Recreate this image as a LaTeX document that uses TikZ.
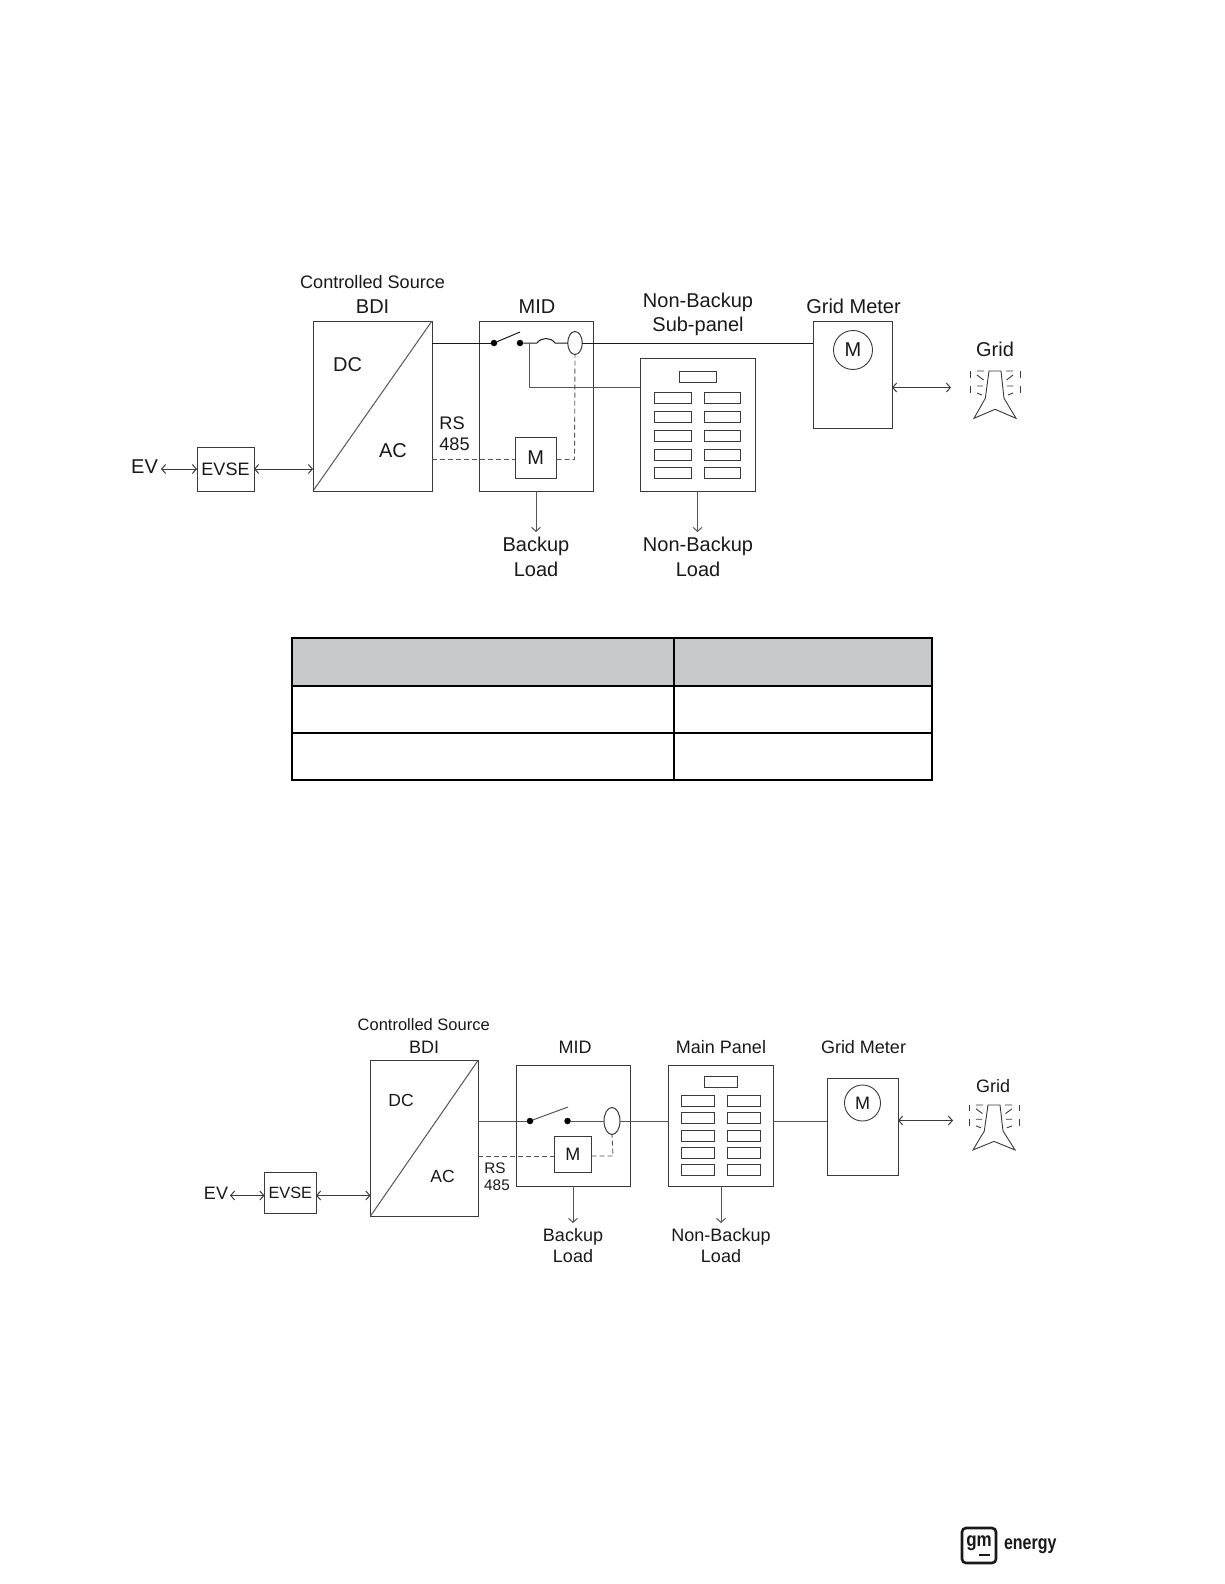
\documentclass[tikz,border=0pt]{standalone}
\usepackage{fontspec}
\setmainfont{Liberation Sans}
\usetikzlibrary{arrows.meta,shapes.geometric}
\definecolor{lnk}{HTML}{3A3A3A}
\definecolor{lng}{HTML}{555555}
\definecolor{hdr}{HTML}{C7C8CA}
\tikzset{
 box/.style={draw=lnk,line width=0.95pt,rectangle,inner sep=0pt,outer sep=0pt,text=black!90},
 brk/.style={draw=lnk,line width=0.95pt,rectangle,minimum width=#1,minimum height=11pt,inner sep=0pt,outer sep=0pt},
 wire/.style={draw=black!90,line width=1pt},
 thinwire/.style={draw=lng,line width=1pt},
 sig/.style={draw=lng,line width=0.9pt,dash pattern=on 5pt off 3pt},
 both/.style={draw=lnk,line width=1pt,{Straight Barb[length=4pt,width=9pt]}-{Straight Barb[length=4pt,width=9pt]}},
 down/.style={draw=lng,line width=1pt,-{Straight Barb[length=4pt,width=9pt]}},
 dot/.style={circle,fill=black,minimum size=6.5pt,inner sep=0pt,outer sep=0pt},
 lbl/.style={inner sep=0pt,outer sep=0pt,text=black!90,font=\fontsize{#1}{#1}\selectfont},
 cell/.style={draw=black,line width=2.2pt},
}
% name, x1, y1, x2, y2, font size, text
\newcommand{\boxnode}[7]{\node[box,minimum width={#4pt-#2pt},minimum height={#5pt-#3pt},font=\fontsize{#6}{#6}\selectfont] (#1) at ({(#2+#4)/2},{(#3+#5)/2}) {#7};}
\newcommand{\towericon}[3]{%
 \begin{scope}[shift={(#1,#2)},yscale=#3,line width=0.9pt]
  \draw[lnk] (-6,0)--(6,0)--(9,27.3)--(21,47.3)--(0,38.3)--(-21,47.3)--(-9.7,27.3)--cycle;
  \foreach \s in {-1,1}{
   \draw[lnk] (\s*25,0)--(\s*25,6.5) (\s*25,15)--(\s*25,21.7);
   \draw[lnk] (\s*18,0)--(\s*11,0) (\s*18,4)--(\s*11.5,9);
   \draw[lnk] (\s*18,15)--(\s*12,15) (\s*18,22)--(\s*13,24);
  }
 \end{scope}}
\begin{document}
\begin{tikzpicture}[x=1pt,y=-1pt]
\useasboundingbox (0,0) rectangle (1224,1584);
\fill[white] (0,0) rectangle (1224,1584);

% ===== upper diagram =====
\boxnode{bdiA}{313}{321}{432}{491}{20}{}
\draw[thinwire] (bdiA.south west)--(bdiA.north east);
\boxnode{midA}{479}{321}{593}{491}{20}{}
\boxnode{panA}{640}{358.5}{755}{491}{20}{}
\boxnode{gmA}{813}{321}{892}{428}{20}{}
\boxnode{evseA}{197}{447}{254}{491}{18}{EVSE}
\boxnode{mA}{515}{437}{556.5}{478.5}{20}{M}
\node[draw=lnk,line width=0.9pt,circle,minimum size=39pt,inner sep=0pt,outer sep=0pt,font=\fontsize{20}{20}\selectfont,text=black!90] (gmcA) at (853,350) {M};
\node[dot] (s1A) at (494,343) {};
\node[dot] (s2A) at (520,343) {};
\coordinate (bladeA) at (520,332);
\node[draw=lnk,line width=1pt,ellipse,minimum width=14.5pt,minimum height=23pt,inner sep=0pt,outer sep=0pt] (ctA) at (575,343) {};
\coordinate (fa1) at (537,343);
\coordinate (fa2) at (555,343);
\coordinate (tapA) at (529,343);
\coordinate (tapB) at (529,387);
\coordinate (evA) at (161,469);
\coordinate (gridA) at (951,387.5);
\coordinate (cornerA) at (574.5,459.5);
\coordinate (bkA) at (536,532);
\coordinate (nbA) at (697.5,532);

\draw[wire] (bdiA.east|-s1A)--(s1A);
\draw[wire] (s1A)--(bladeA);
\draw[wire] (s2A)--(fa1) .. controls (541,337) and (551,337) .. (fa2)--(ctA.west);
\draw[wire] (ctA.east)--(gmA.west|-ctA);
\draw[thinwire] (tapA)--(tapB)--(panA.west|-tapB);
\draw[sig] (bdiA.east|-cornerA)--(mA.west|-cornerA);
\draw[sig] (mA.east|-cornerA)--(cornerA)--(ctA.south);
\draw[both] (evA)--(evseA.west|-evA);
\draw[both] (evseA.east|-evA)--(bdiA.west|-evA);
\draw[both] (gmA.east|-gridA)--(gridA);
\draw[down] (midA.south-|bkA)--(bkA);
\draw[down] (panA.south-|nbA)--(nbA);

\node[brk=37pt] (ptA) at (697.5,376.5) {};
\foreach \y [count=\i] in {398,417,436,455,473}{
 \node[brk=37pt] (pla\i) at (672.5,\y) {};
 \node[brk=36pt] (pra\i) at (722,\y) {};
}
\towericon{995}{371}{1}

\node[lbl=18.1] (t1) at (372.6,282) {Controlled Source};
\node[lbl=20] (t2) at (372.6,306.5) {BDI};
\node[lbl=20] (t3) at (347.5,364.5) {DC};
\node[lbl=20] (t4) at (393,450.5) {AC};
\node[lbl=18.2] (t5) at (452,423) {RS};
\node[lbl=18.2] (t6) at (454.5,444) {485};
\node[lbl=20] (t7) at (537,306.5) {MID};
\node[lbl=20] (t8) at (698,302.5) {Non-Backup};
\node[lbl=20] (t9) at (698,326.5) {Sub-panel};
\node[lbl=20] (t10) at (853.5,306) {Grid Meter};
\node[lbl=20] (t11) at (995,349.5) {Grid};
\node[lbl=20] (t12) at (144.5,466.5) {EV};
\node[lbl=20] (t13) at (536,546) {Backup};
\node[lbl=20] (t14) at (536,569) {Load};
\node[lbl=20] (t15) at (698,546) {Non-Backup};
\node[lbl=20] (t16) at (698,569) {Load};

% ===== table =====
\fill[hdr] (292,638) rectangle (932,686);
\draw[cell] (292,638) rectangle (932,780);
\draw[cell] (292,686)--(932,686);
\draw[cell] (292,733)--(932,733);
\draw[cell] (674,638)--(674,780);

% ===== lower diagram =====
\boxnode{bdiB}{370.5}{1060.5}{478}{1216}{18}{}
\draw[thinwire] (bdiB.south west)--(bdiB.north east);
\boxnode{midB}{516.5}{1065}{630}{1186}{18}{}
\boxnode{panB}{668.5}{1065}{773}{1186}{18}{}
\boxnode{gmB}{827}{1078}{898}{1175}{18}{}
\boxnode{evseB}{264.5}{1172.5}{316}{1213}{16.3}{EVSE}
\boxnode{mB}{554}{1136}{591.5}{1172.5}{18}{M}
\node[draw=lnk,line width=0.9pt,circle,minimum size=36pt,inner sep=0pt,outer sep=0pt,font=\fontsize{18}{18}\selectfont,text=black!90] (gmcB) at (862.5,1103) {M};
\node[dot] (s1B) at (530,1121) {};
\node[dot] (s2B) at (567.5,1121) {};
\coordinate (bladeB) at (568,1107);
\node[draw=lnk,line width=1pt,ellipse,minimum width=16pt,minimum height=27pt,inner sep=0pt,outer sep=0pt] (ctB) at (612,1121) {};
\coordinate (evB) at (230,1195.5);
\coordinate (gridB) at (953,1120.5);
\coordinate (cornerB) at (613,1156);
\coordinate (bkB) at (573,1223);
\coordinate (nbB) at (721,1223);

\draw[thinwire] (bdiB.east|-s1B)--(s1B);
\draw[thinwire] (s1B)--(bladeB);
\draw[thinwire] (s2B)--(ctB.west);
\draw[thinwire] (ctB.east)--(panB.west|-ctB);
\draw[thinwire] (panB.east|-ctB)--(gmB.west|-ctB);
\draw[sig] (bdiB.east|-cornerB)--(mB.west|-cornerB);
\draw[sig] (mB.east|-cornerB)--(cornerB)--(ctB.south);
\draw[both] (evB)--(evseB.west|-evB);
\draw[both] (evseB.east|-evB)--(bdiB.west|-evB);
\draw[both] (gmB.east|-gridB)--(gridB);
\draw[down] (midB.south-|bkB)--(bkB);
\draw[down] (panB.south-|nbB)--(nbB);

\node[brk=33pt] (ptB) at (720.8,1081.5) {};
\foreach \y [count=\i] in {1101,1118,1135.5,1152.5,1170}{
 \node[brk=33pt] (plb\i) at (698,\y) {};
 \node[brk=33pt] (prb\i) at (743.5,\y) {};
}
\towericon{994}{1105}{0.95}

\node[lbl=16.5] (u1) at (423.7,1025) {Controlled Source};
\node[lbl=18] (u2) at (424,1047.5) {BDI};
\node[lbl=17.5] (u3) at (401,1100.5) {DC};
\node[lbl=17.5] (u4) at (442.5,1176.5) {AC};
\node[lbl=15.3] (u5) at (495,1168) {RS};
\node[lbl=15.3] (u6) at (497,1185) {485};
\node[lbl=18] (u7) at (575,1047.5) {MID};
\node[lbl=18] (u8) at (721,1047.5) {Main Panel};
\node[lbl=18] (u9) at (863.5,1047.5) {Grid Meter};
\node[lbl=18] (u10) at (993,1086) {Grid};
\node[lbl=18] (u11) at (216,1193) {EV};
\node[lbl=18] (u12) at (573,1237) {Backup};
\node[lbl=18] (u13) at (573,1256) {Load};
\node[lbl=18] (u14) at (721,1237) {Non-Backup};
\node[lbl=18] (u15) at (721,1256) {Load};

% ===== logo =====
\node[draw=black!90,line width=2.6pt,rounded corners=4pt,minimum width=34pt,minimum height=35pt,inner sep=0pt,outer sep=0pt] (logo) at (979,1545.5) {};
\node[inner sep=0pt,outer sep=0pt,font=\fontsize{20}{20}\selectfont\bfseries,text=black!90,xscale=0.85] (logog) at (979,1543) {gm};
\draw[black!90,line width=1.6pt] (979,1555)--(990,1555);
\node[inner sep=0pt,outer sep=0pt,anchor=west,font=\fontsize{20}{20}\selectfont\bfseries,text=black!90,xscale=0.8] (logot) at (1004,1546) {energy};
\end{tikzpicture}
\end{document}
